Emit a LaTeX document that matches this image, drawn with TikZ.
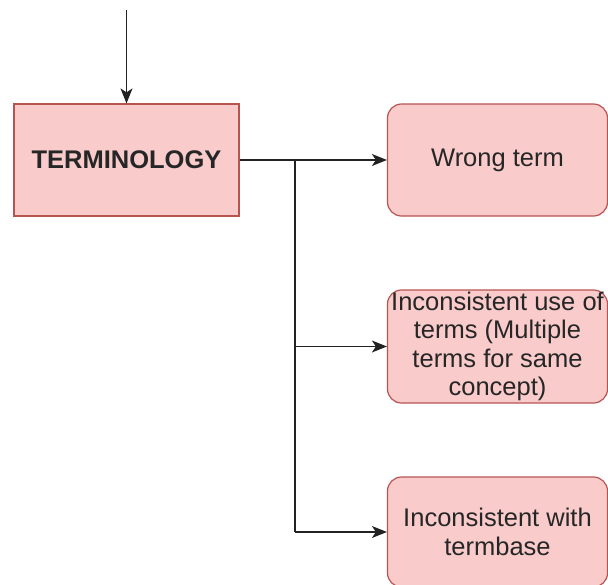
\documentclass[tikz,border=0pt]{standalone}
\usepackage{fontspec}
\setmainfont{Liberation Sans}
\usetikzlibrary{arrows.meta}
\definecolor{boxfill}{HTML}{F9CBCB}
\definecolor{boxline}{HTML}{B85450}
\definecolor{linecol}{HTML}{222222}
\begin{document}
\begin{tikzpicture}[x=1pt,y=-1pt,
  box/.style={draw=boxline,fill=boxfill,line width=1.2pt,minimum width=220pt,inner sep=0pt,align=center,text=black!85,font=\fontsize{25.5}{28.5}\selectfont},
  rbox/.style={box,rounded corners=14pt},
  conn/.style={draw=linecol,line width=1.4pt},
  arr/.style={conn,-{Stealth[length=15pt,width=12pt,inset=4pt]}}]
\useasboundingbox (0,0) rectangle (608,584);
\clip (0,0) rectangle (608,584);
\node[box,minimum width=225pt,minimum height=112pt,font=\fontsize{25.5}{28.5}\selectfont\bfseries] (term) at (126.5,160) {TERMINOLOGY};
\node[rbox,minimum height=112pt] (wrong) at (497.5,160) {Wrong term};
\node[rbox,minimum height=113pt] (incons) at (497.5,346.5) {Inconsistent use of\\terms (Multiple\\terms for same\\concept)};
\node[rbox,minimum height=110pt] (tbase) at (497.5,532) {Inconsistent with\\termbase};
\coordinate (top) at (126.5,10);
\coordinate (j1) at (295,160);
\coordinate (j2) at (295,346.5);
\coordinate (j3) at (295,532);
\draw[arr] (top) -- (term.north);
\draw[arr] (term.east) -- (wrong.west);
\draw[conn] (j1) -- (j3);
\draw[arr] (j2) -- (incons.west);
\draw[arr] (j3) -- (tbase.west);
\end{tikzpicture}
\end{document}
